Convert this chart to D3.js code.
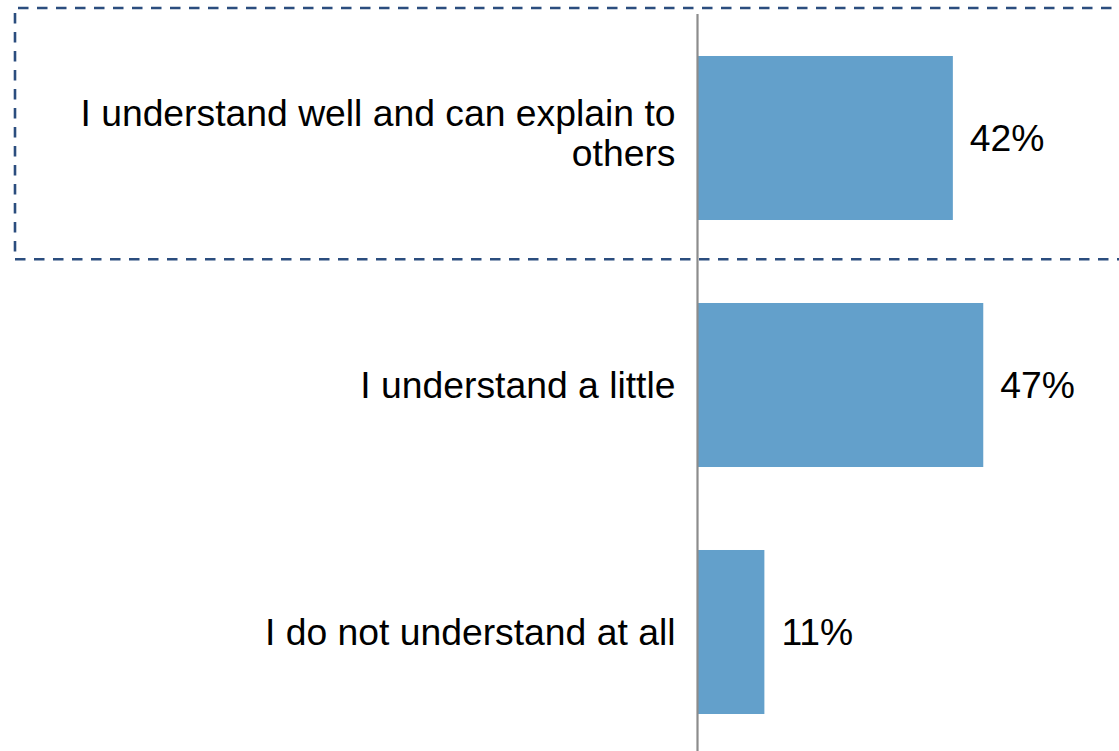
<!DOCTYPE html>
<html>
<head>
<meta charset="utf-8">
<script src="https://cdn.jsdelivr.net/npm/d3@7"></script>
<style>
  html, body { margin: 0; padding: 0; background: #fff; }
  svg { display: block; }
</style>
</head>
<body>
<svg id="chart" width="1119" height="751"></svg>
<script>
// Survey answers and their shares
const categories = [
  ["I understand well and can explain to", "others"],
  ["I understand a little"],
  ["I do not understand at all"]
];
const shares = [0.42, 0.47, 0.11];
const shareLabels = ["42%", "47%", "11%"];

const W = 1119, H = 751;
const svg = d3.select("#chart");
const font = "'Liberation Sans', Arial, sans-serif";
const fontSize = 37.3;

const x0 = 697.5;
const x = d3.scaleLinear().domain([0, 1]).range([x0, x0 + 608]);
const y = d3.scaleBand()
  .domain(d3.range(categories.length))
  .range([14.5, 755.5])
  .paddingInner(0.336)
  .paddingOuter(0.168);

// Bars
svg.append("g").selectAll("rect")
  .data(shares)
  .join("rect")
  .attr("x", x(0))
  .attr("y", (d, i) => y(i))
  .attr("width", d => x(d) - x(0))
  .attr("height", y.bandwidth())
  .attr("fill", "#63a0cb");

// Category axis line
svg.append("line")
  .attr("x1", x0).attr("x2", x0)
  .attr("y1", 14).attr("y2", H)
  .attr("stroke", "#8c8c8c")
  .attr("stroke-width", 2.2);

// Category labels, right-aligned against the axis
const lineH = 40;
const labels = svg.append("g")
  .attr("font-family", font)
  .attr("font-size", fontSize)
  .attr("fill", "#000")
  .attr("text-anchor", "end");
categories.forEach((lines, i) => {
  const cy = y(i) + y.bandwidth() / 2;
  const first = cy + 12.5 - (lines.length - 1) * lineH / 2 - (lines.length > 1 ? 5 : 0);
  const t = labels.append("text").attr("x", x0 - 22);
  lines.forEach((s, j) => {
    t.append("tspan").attr("x", x0 - 22).attr("y", first + j * lineH).text(s);
  });
});

// Value labels
svg.append("g")
  .attr("font-family", font)
  .attr("font-size", fontSize)
  .attr("fill", "#000")
  .selectAll("text")
  .data(shares)
  .join("text")
  .attr("x", d => x(d) + 17)
  .attr("y", (d, i) => y(i) + y.bandwidth() / 2 + 12.5)
  .text((d, i) => shareLabels[i]);

// Dashed highlight frame around the first answer
const frame = svg.append("g")
  .attr("stroke", "#2b4d7e")
  .attr("stroke-width", 2.6)
  .attr("stroke-dasharray", "10.5 8.5")
  .attr("fill", "none");
frame.append("line").attr("x1", 18).attr("x2", W + 20).attr("y1", 8).attr("y2", 8);
frame.append("line").attr("x1", 15).attr("x2", 15).attr("y1", 13).attr("y2", 253);
frame.append("line").attr("x1", 15).attr("x2", W + 20).attr("y1", 259.3).attr("y2", 259.3);
</script>
</body>
</html>
